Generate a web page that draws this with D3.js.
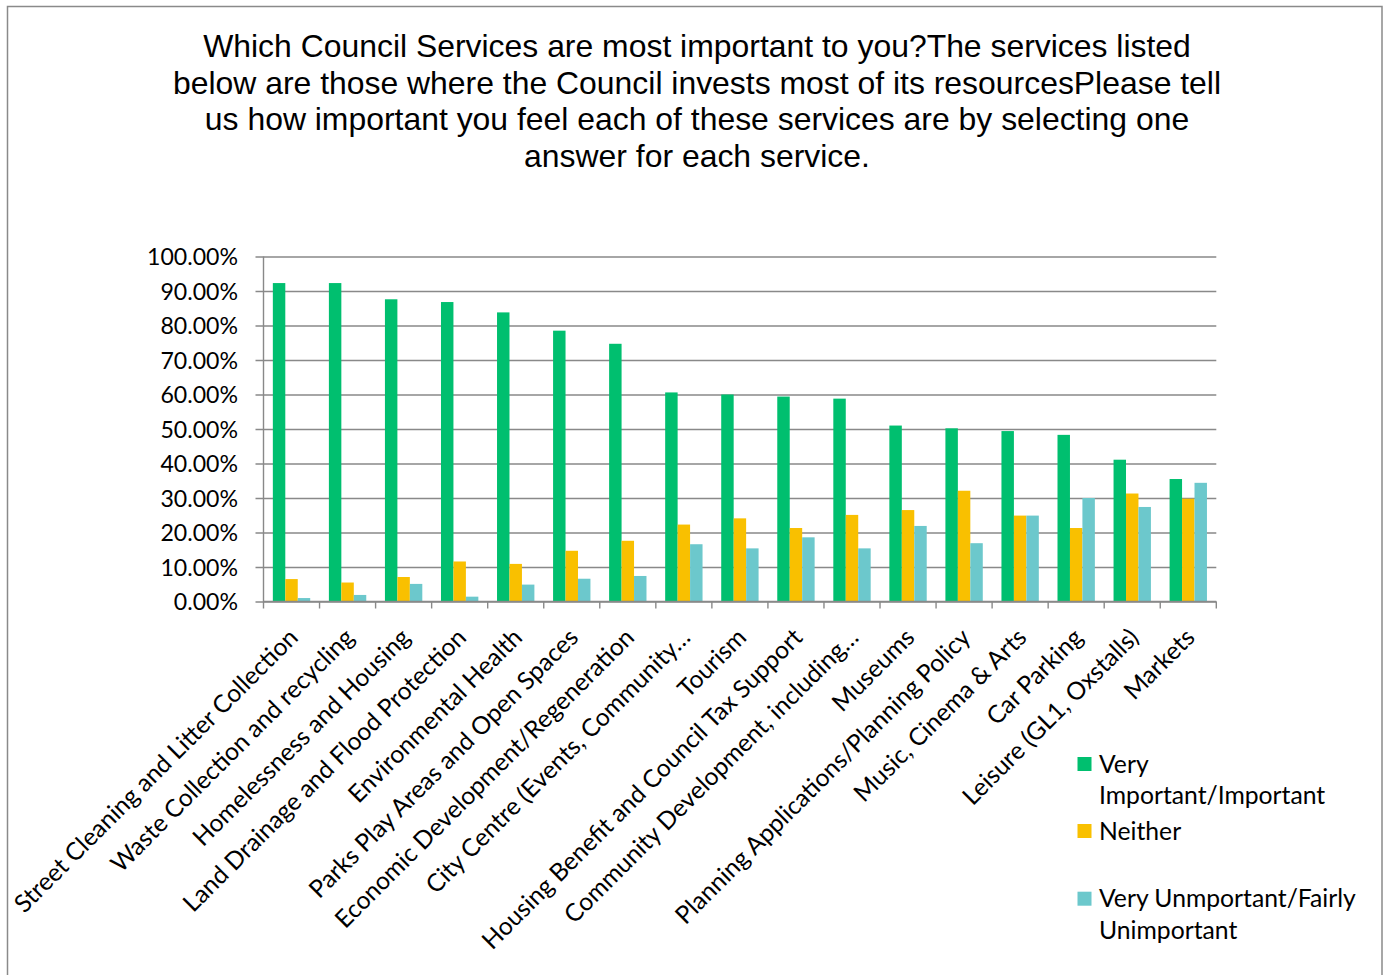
<!DOCTYPE html>
<html>
<head>
<meta charset="utf-8">
<script src="https://cdn.jsdelivr.net/npm/d3@7"></script>
<style>
  html, body { margin: 0; padding: 0; background: #fff; }
  svg { display: block; }
</style>
</head>
<body>
<svg id="chart" width="1390" height="975"></svg>
<script>
const titleLines = [
  "Which Council Services are most important to you?The services listed",
  "below are those where the Council invests most of its resourcesPlease tell",
  "us how important you feel each of these services are by selecting one",
  "answer for each service."
];
const categories = [
  "Street Cleaning and Litter Collection",
  "Waste Collection and recycling",
  "Homelessness and Housing",
  "Land Drainage and Flood Protection",
  "Environmental Health",
  "Parks Play Areas and Open Spaces",
  "Economic Development/Regeneration",
  "City Centre (Events, Community\u2026",
  "Tourism",
  "Housing Benefit and Council Tax Support",
  "Community Development, including\u2026",
  "Museums",
  "Planning Applications/Planning Policy",
  "Music, Cinema & Arts",
  "Car Parking",
  "Leisure (GL1, Oxstalls)",
  "Markets"
];
const seriesNames = ["Very Important/Important", "Neither", "Very Unmportant/Fairly Unimportant"];
const veryImportant = [92.3, 92.3, 87.6, 86.8, 83.8, 78.5, 74.7, 60.6, 60.0, 59.4, 58.8, 51.0, 50.2, 49.4, 48.3, 41.1, 35.5];
const neither       = [6.5, 5.5, 7.1, 11.6, 10.9, 14.7, 17.6, 22.3, 24.1, 21.3, 25.1, 26.5, 32.1, 24.9, 21.3, 31.3, 29.8];
const unimportant   = [1.0, 1.9, 5.1, 1.4, 4.9, 6.6, 7.4, 16.6, 15.4, 18.6, 15.4, 21.9, 16.9, 24.9, 30.0, 27.4, 34.4];
const yTicks = [0, 10, 20, 30, 40, 50, 60, 70, 80, 90, 100];
const legendLines = [["Very", "Important/Important"], ["Neither"], ["Very Unmportant/Fairly", "Unimportant"]];
const colors = ["#00bf6f", "#f9c000", "#6cc8cc"];

const seriesValues = [veryImportant, neither, unimportant];
const data = categories.map((c, i) => ({ cat: c, vals: seriesValues.map((s, k) => ({ k, v: s[i] })) }));

const svg = d3.select("#chart");
const labelFont = "Lato, 'Open Sans', sans-serif";
const titleFont = "'Liberation Sans', Arial, sans-serif";

// measure helper to size fonts
function measure(txt, family, size) {
  const t = svg.append("text").attr("font-family", family).attr("font-size", size).text(txt);
  const w = t.node().getComputedTextLength();
  t.remove();
  return w;
}
const fit = (txt, family, target) => 100 * target / measure(txt, family, 100);
const ySize = fit("100.00%", labelFont, 91);
const xSize = fit(categories[0], labelFont, 389);
const legSize = fit("Very Unmportant/Fairly", labelFont, 257);
const titleSize = fit(titleLines[0], titleFont, 988);

svg.append("rect").attr("width", 1390).attr("height", 975).attr("fill", "#fff");
// outer border
svg.append("rect").attr("x", 7.5).attr("y", 6.5).attr("width", 1374.5).attr("height", 990)
  .attr("fill", "none").attr("stroke", "#8a8a8a").attr("stroke-width", 1.5);

// title
svg.append("g").selectAll("text").data(titleLines).join("text")
  .attr("x", 697).attr("y", (d, i) => 57 + i * 36.5)
  .attr("text-anchor", "middle")
  .attr("font-family", titleFont).attr("font-size", titleSize).attr("fill", "#000")
  .text(d => d);

const x0 = 263.5, x1 = 1216.3;
const x = d3.scaleBand().domain(categories).range([x0, x1]).paddingInner(0).paddingOuter(0);
const xs = d3.scaleBand().domain([0, 1, 2]).range([0, x.bandwidth()]).paddingInner(0).paddingOuter(0.75);
const y = d3.scaleLinear().domain([0, 100]).range([601.5, 256.5]);

// y axis with gridlines
const yAxis = d3.axisLeft(y).tickValues(yTicks).tickFormat(d => d.toFixed(2) + "%")
  .tickSizeInner(-(x1 - x0)).tickSizeOuter(0).tickPadding(x0 - 238);
const gy = svg.append("g").attr("transform", `translate(${x0},0)`).call(yAxis);
gy.select(".domain").remove();
gy.selectAll(".tick line").attr("x1", -8).attr("stroke", "#898989").attr("stroke-width", 1.4);
gy.selectAll(".tick text").attr("font-family", labelFont).attr("font-size", ySize).attr("fill", "#000").attr("dy", "0.36em");

// bars
const groups = svg.append("g").selectAll("g").data(data).join("g")
  .attr("transform", d => `translate(${x(d.cat)},0)`);
groups.selectAll("rect").data(d => d.vals).join("rect")
  .attr("x", d => xs(d.k)).attr("width", xs.bandwidth())
  .attr("y", d => y(d.v)).attr("height", d => y(0) - y(d.v))
  .attr("fill", d => colors[d.k]);

// axis lines (vertical + x baseline) and category ticks
svg.append("line").attr("x1", x0).attr("x2", x0).attr("y1", y(100)).attr("y2", y(0) + 7)
  .attr("stroke", "#898989").attr("stroke-width", 1.4);
svg.append("line").attr("x1", x0).attr("x2", x1).attr("y1", y(0)).attr("y2", y(0))
  .attr("stroke", "#898989").attr("stroke-width", 1.4);
const bounds = categories.map(c => x(c) + x.bandwidth());
svg.append("g").selectAll("line").data(bounds).join("line")
  .attr("x1", d => d).attr("x2", d => d).attr("y1", y(0)).attr("y2", y(0) + 7)
  .attr("stroke", "#898989").attr("stroke-width", 1.4);

// x labels
svg.append("g").selectAll("text").data(categories).join("text")
  .attr("transform", d => `translate(${x(d) + x.bandwidth() / 2 + 8},639) rotate(-45)`)
  .attr("text-anchor", "end")
  .attr("font-family", labelFont).attr("font-size", xSize).attr("fill", "#000")
  .text(d => d);

// legend
const legY = [757, 824, 891.7];
const leg = svg.append("g").selectAll("g").data(seriesNames).join("g");
leg.append("rect").attr("x", 1077.5).attr("y", (d, i) => legY[i]).attr("width", 14).attr("height", 14)
  .attr("fill", (d, i) => colors[i]);
leg.each(function (d, i) {
  d3.select(this).selectAll("text").data(legendLines[i]).join("text")
    .attr("x", 1099).attr("y", (t, j) => legY[i] + 15.5 + j * 31.5)
    .attr("font-family", labelFont).attr("font-size", legSize).attr("fill", "#000")
    .text(t => t);
});
</script>
</body>
</html>
